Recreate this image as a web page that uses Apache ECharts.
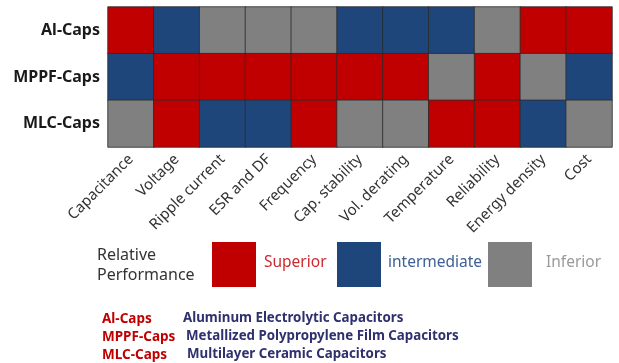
<!DOCTYPE html>
<html>
<head>
<meta charset="utf-8">
<script src="https://cdn.jsdelivr.net/npm/echarts@6/dist/echarts.min.js"></script>
<style>
  html, body { margin: 0; padding: 0; background: #fff; }
  #chart { width: 619px; height: 363px; }
</style>
</head>
<body>
<div id="chart"></div>
<script>
// Capacitor technologies compared across criteria
const criteria = ['Capacitance', 'Voltage', 'Ripple current', 'ESR and DF', 'Frequency',
  'Cap. stability', 'Vol. derating', 'Temperature', 'Reliability', 'Energy density', 'Cost'];
const technologies = ['Al-Caps', 'MPPF-Caps', 'MLC-Caps'];
const fullNames = ['Aluminum Electrolytic Capacitors', 'Metallized Polypropylene Film Capacitors',
  'Multilayer Ceramic Capacitors'];
// 2 = Superior, 1 = intermediate, 0 = Inferior
const ratingLevels = ['Inferior', 'intermediate', 'Superior'];
const alCaps   = [2, 1, 0, 0, 0, 1, 1, 1, 0, 2, 2];
const mppfCaps = [1, 2, 2, 2, 2, 2, 2, 0, 2, 0, 1];
const mlcCaps  = [0, 2, 1, 1, 2, 0, 0, 2, 2, 1, 0];

const RED = '#c00000', BLUE = '#1f467b', GRAY = '#808080';
const levelColors = [GRAY, BLUE, RED];
const levelText = ['#9a9a9a', '#3d5f95', '#cc2a2f'];

const rows = [alCaps, mppfCaps, mlcCaps];
const cells = [];
rows.forEach((row, r) => row.forEach((v, c) => cells.push([c, r, v])));

const chart = echarts.init(document.getElementById('chart'));

// legend blocks for the three performance levels
const legendGraphics = [{
  type: 'text', left: 97, top: 245,
  style: { text: 'Relative\nPerformance', fontFamily: 'Noto Sans', fontSize: 16, lineHeight: 20, fill: '#333' }
}];
const legendX = [212, 337, 488];
const legendLabelX = [264, 388, 546];
[2, 1, 0].forEach((lvl, i) => {
  legendGraphics.push({
    type: 'rect', shape: { x: legendX[i], y: 242, width: 44, height: 45 },
    style: { fill: levelColors[lvl] }
  });
  legendGraphics.push({
    type: 'text', left: legendLabelX[i], top: 255,
    style: { text: ratingLevels[lvl], fontFamily: 'Noto Sans', fontSize: 15.5, fill: levelText[lvl] }
  });
});
technologies.forEach((t, i) => {
  legendGraphics.push({
    type: 'text', left: 102, top: 312 + i * 18,
    style: { text: t, fontFamily: 'Noto Sans', fontWeight: 'bold', fontSize: 13.5, fill: RED }
  });
  legendGraphics.push({
    type: 'text', left: [183, 186, 187][i], top: 312 + i * 18,
    style: { text: fullNames[i], fontFamily: 'Noto Sans', fontWeight: 'bold', fontSize: 13.3, fill: '#2f306e' }
  });
});

chart.setOption({
  animation: false,
  grid: { left: 108, right: 7, top: 7, height: 140 },
  xAxis: {
    type: 'category', data: criteria,
    axisLine: { show: false }, axisTick: { show: false }, splitLine: { show: false },
    axisLabel: { rotate: 45, interval: 0, margin: 10, fontFamily: 'Noto Sans', fontSize: 15, color: '#333' }
  },
  yAxis: {
    type: 'category', data: technologies, inverse: true,
    axisLine: { show: false }, axisTick: { show: false }, splitLine: { show: false },
    axisLabel: { margin: 8, fontFamily: 'Noto Sans', fontWeight: 'bold', fontSize: 16, color: '#1a1a1a' }
  },
  visualMap: {
    show: false, type: 'piecewise', dimension: 2,
    pieces: [{ value: 0, color: GRAY }, { value: 1, color: BLUE }, { value: 2, color: RED }]
  },
  series: [{
    type: 'heatmap', data: cells,
    itemStyle: { borderColor: '#2a2a2a', borderWidth: 0.8 },
    emphasis: { disabled: true }
  }],
  graphic: legendGraphics
});
</script>
</body>
</html>
